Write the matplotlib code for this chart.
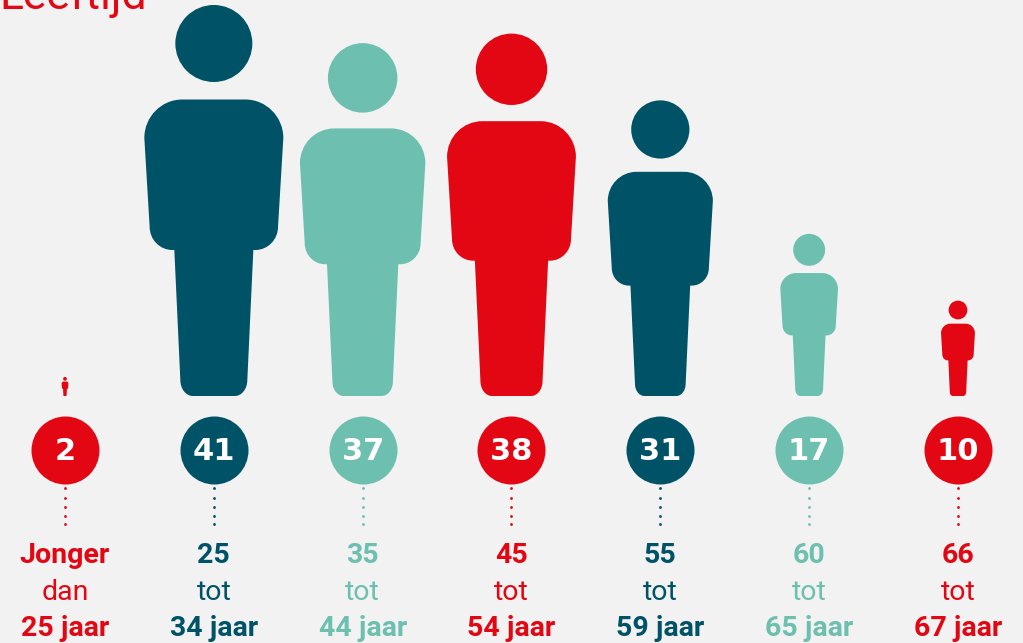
import numpy as np
import matplotlib
matplotlib.use("Agg")
import matplotlib.pyplot as plt
from matplotlib.path import Path
from matplotlib.patches import PathPatch

title = "Leeftijd"
values = [2, 41, 37, 38, 31, 17, 10]
line1 = ["Jonger", "25", "35", "45", "55", "60", "66"]
line2 = ["dan", "tot", "tot", "tot", "tot", "tot", "tot"]
line3 = ["25 jaar", "34 jaar", "44 jaar", "54 jaar", "59 jaar", "65 jaar", "67 jaar"]
RED, NAVY, TEAL = "#E30613", "#005266", "#6DBFB0"
colors = [RED, NAVY, TEAL, RED, NAVY, TEAL, RED]
BG = "#F2F2F2"
W, H = 1023, 643
X0, STEP = 65.0, 148.83      # pixel centre of first column, column spacing
BASE, PXV = 396.0, 391 / 41  # baseline pixel, pixels per value unit


def py(p):
    return (BASE - p) / PXV


fig = plt.figure(figsize=(W / 100, H / 100), dpi=100, facecolor=BG)
ax = fig.add_axes([0, 0, 1, 1])
ax.set_xlim(-X0 / STEP, (W - X0) / STEP)
ax.set_ylim(py(H), py(0))
ax.axis("off")

K = 0.5523


def corner(p0, p1, horizontal_first):
    (x0, y0), (x1, y1) = p0, p1
    if horizontal_first:
        c1 = (x0 + K * (x1 - x0), y0)
        c2 = (x1, y1 - K * (y1 - y0))
    else:
        c1 = (x0, y0 + K * (y1 - y0))
        c2 = (x1 - K * (x1 - x0), y1)
    return [c1, c2, p1]


def half_body():
    v = [(0, 0), (21, 0)]
    c = [Path.MOVETO, Path.LINETO]
    v += corner((21, 0), (33.5, 16), True); c += [Path.CURVE4] * 3
    v += [(39.5, 146)]; c += [Path.LINETO]
    v += [(41.5, 146)]; c += [Path.LINETO]
    v += corner((41.5, 146), (64.2, 169.3), True); c += [Path.CURVE4] * 3
    v += [(69.5, 258)]; c += [Path.LINETO]
    v += corner((69.5, 258), (31.5, 296.5), False); c += [Path.CURVE4] * 3
    v += [(0, 296.5)]; c += [Path.LINETO]
    return v, c


def person():
    v, c = half_body()
    v = np.array(v, float)
    mirror = v[::-1][1:].copy()
    mirror[:, 0] *= -1
    codes = list(c)
    rc = c[1:][::-1]
    codes += rc
    verts = np.vstack([v, mirror])
    body = Path(verts, codes)
    uc = Path.unit_circle()
    head = Path(uc.vertices * 38.5 + np.array([0, 352.5]), uc.codes)
    return Path.make_compound_path(body, head)


shape = person()
for i, (val, col) in enumerate(zip(values, colors)):
    k = val / 41
    vv = shape.vertices * k
    xy = np.column_stack([i + vv[:, 0] / STEP, vv[:, 1] / PXV])
    ax.add_patch(PathPatch(Path(xy, shape.codes), fc=col, ec="none", lw=0))
    ax.scatter([i], [py(450)], s=(68 * 0.72) ** 2, color=col, linewidths=0, zorder=3)
    ax.text(i, py(449), str(val), color="white", ha="center", va="center_baseline",
            fontsize=22, fontweight="bold", family="DejaVu Sans", zorder=4)
    dots = [py(p) for p in (488, 497.5, 506.5, 515.5, 523.5)]
    ax.scatter([i] * 5, dots, s=(2.8 * 0.72) ** 2, color=col, linewidths=0)
    ax.text(i, py(563), line1[i], color=col, ha="center", va="baseline",
            fontsize=20.5, fontweight="bold", family="Roboto")
    ax.text(i, py(600), line2[i], color=col, ha="center", va="baseline",
            fontsize=20.5, fontweight="normal", family="Roboto")
    ax.text(i, py(636), line3[i], color=col, ha="center", va="baseline",
            fontsize=20.5, fontweight="bold", family="Roboto")

ax.text(-X0 / STEP - 0.005, py(9), title, color=RED, ha="left", va="baseline",
        fontsize=32, fontweight="normal", family="Roboto")

fig.savefig("out.png", dpi=100, facecolor=BG)
